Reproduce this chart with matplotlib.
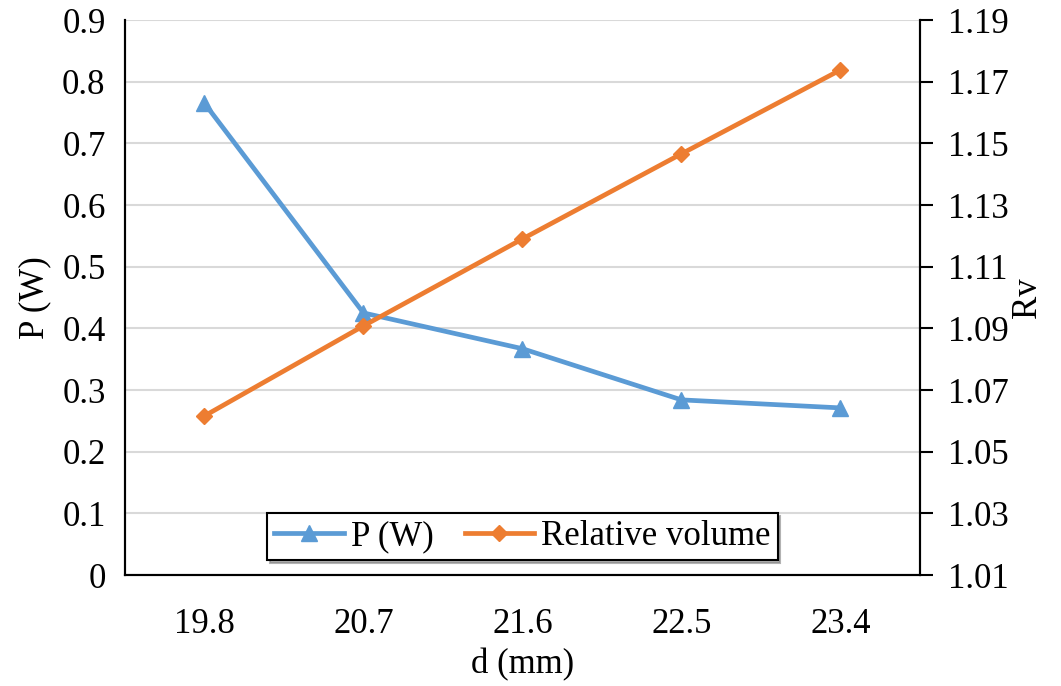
import matplotlib.pyplot as plt
import numpy as np

plt.rcParams['font.family'] = ['Liberation Serif', 'DejaVu Serif']

# data
d_labels = ['19.8', '20.7', '21.6', '22.5', '23.4']
power_w = [0.765, 0.425, 0.367, 0.284, 0.271]
rel_volume = [1.0616, 1.0908, 1.1190, 1.1466, 1.1738]

blue = '#5B9BD5'
orange = '#ED7D31'
fs = 25

fig = plt.figure(figsize=(10.61, 6.86), dpi=100)
ax = fig.add_axes([0.1178, 0.1618, 0.7492, 0.809])
ax2 = ax.twinx()

x = np.arange(len(d_labels))
l1, = ax.plot(x, power_w, color=blue, lw=3.4, marker='^', ms=12, label='P (W)')
l2, = ax2.plot(x, rel_volume, color=orange, lw=3.4, marker='D', ms=8, label='Relative volume')

ax.set_xlim(-0.5, len(d_labels) - 0.5)
ax.set_ylim(0, 0.9)
ax.set_yticks(np.arange(0, 0.91, 0.1))
ax.set_yticklabels(['0'] + ['%.1f' % v for v in np.arange(0.1, 0.91, 0.1)])
ax2.set_ylim(1.01, 1.19)
ax2.set_yticks(np.arange(1.01, 1.191, 0.02))
ax2.set_yticklabels(['%.2f' % v for v in np.arange(1.01, 1.191, 0.02)])

ax.set_xticks(x)
ax.set_xticklabels(d_labels)
ax.grid(axis='y', color='#d9d9d9', lw=1.5)
ax.set_axisbelow(True)

ax.tick_params(axis='x', length=0, labelsize=fs, pad=24)
ax.tick_params(axis='y', length=0, labelsize=fs, pad=14)
ax2.tick_params(axis='y', length=9, width=1.5, labelsize=fs, pad=11)

for a in (ax, ax2):
    a.spines['top'].set_visible(False)
    for s in ['left', 'right', 'bottom']:
        a.spines[s].set_linewidth(1.5)

ax.set_xlabel('d (mm)', fontsize=fs, labelpad=5)
ax.set_ylabel('P (W)', fontsize=fs, labelpad=8)
ax2.set_ylabel('Rv', fontsize=fs, labelpad=2)

leg = ax2.legend(handles=[l1, l2], loc='lower center', bbox_to_anchor=(0.5, 0.027),
                 borderaxespad=0, fontsize=fs, frameon=True, fancybox=False,
                 edgecolor='black', ncol=2, handlelength=2.0, columnspacing=0.9,
                 handletextpad=0.2, borderpad=0.2,
                 shadow={'color': '0.5', 'alpha': 0.6})
leg.get_frame().set_linewidth(1.5)

fig.savefig('out.png', dpi=100)
